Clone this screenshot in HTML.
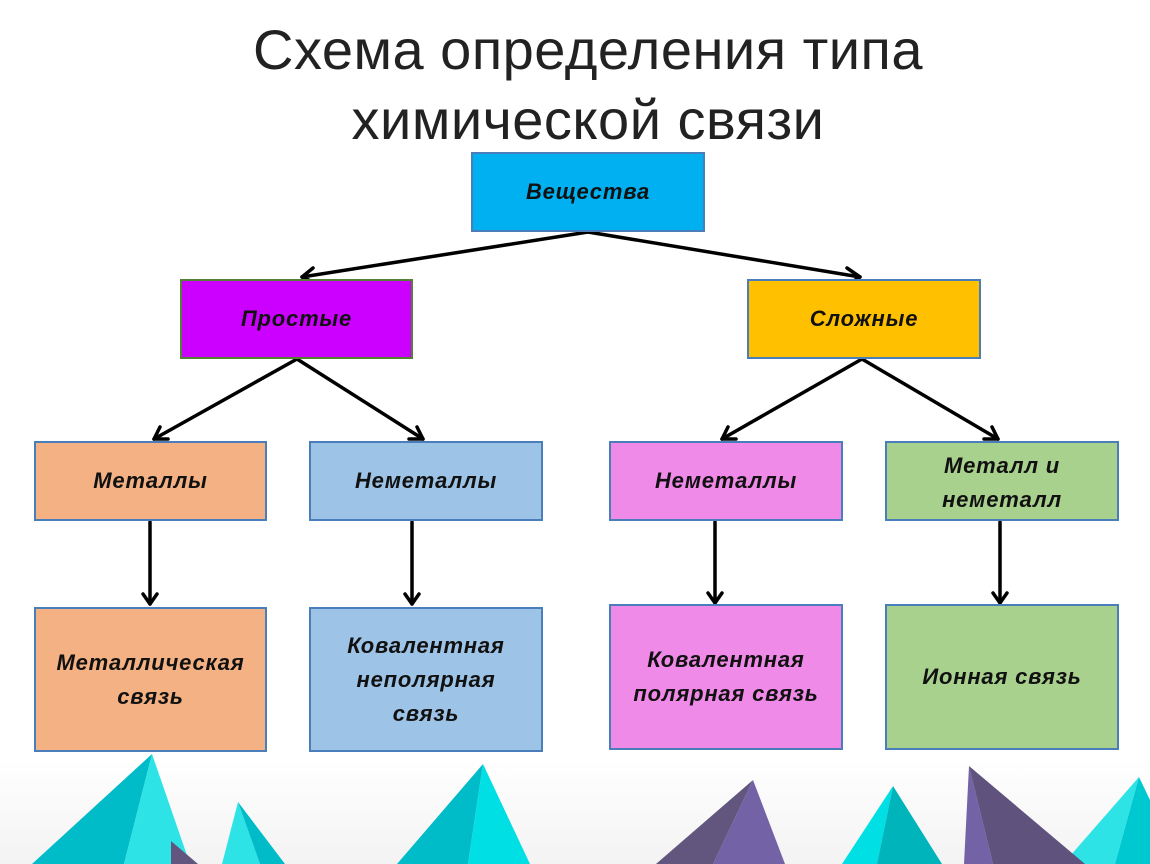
<!DOCTYPE html>
<html><head><meta charset="utf-8"><style>
body{margin:0;width:1150px;height:864px;overflow:hidden;background:#fff;position:relative;font-family:"Liberation Sans","DejaVu Sans",sans-serif}
.t{position:absolute;left:0;width:1176px;text-align:center;font-size:56px;color:#222;line-height:70px;letter-spacing:0.5px}
.b{position:absolute;box-sizing:border-box;border:2px solid #4a7ebb;display:flex;align-items:center;justify-content:center;text-align:center;font-weight:bold;font-style:italic;font-size:22px;letter-spacing:0.8px;line-height:34px;color:#111}
svg{position:absolute;left:0;top:0}
</style></head><body>
<svg width="1150" height="864">
<defs><linearGradient id="bg" x1="0" y1="0" x2="0" y2="1"><stop offset="0" stop-color="#fff"/><stop offset="1" stop-color="#f3f3f3"/></linearGradient></defs>
<rect x="0" y="760" width="1150" height="104" fill="url(#bg)"/>
<g stroke="#000" stroke-width="3.5" fill="none" stroke-linecap="round" stroke-linejoin="round">
<line x1="588" y1="232" x2="302" y2="277"/><polyline points="313,268 302,277 315,283"/>
<line x1="588" y1="232" x2="860" y2="277"/><polyline points="847,268 860,277 849,284"/>
<line x1="297" y1="359" x2="154" y2="439"/><polyline points="160,427 154,439 168,439"/>
<line x1="297" y1="359" x2="423" y2="439"/><polyline points="409,439 423,439 417,427"/>
<line x1="862" y1="359" x2="722" y2="439"/><polyline points="728,427 722,439 736,439"/>
<line x1="862" y1="359" x2="998" y2="439"/><polyline points="984,439 998,439 992,427"/>
<line x1="150" y1="522" x2="150" y2="604"/><polyline points="143,594 150,604 157,594"/>
<line x1="412" y1="522" x2="412" y2="604"/><polyline points="405,594 412,604 419,594"/>
<line x1="715" y1="522" x2="715" y2="603"/><polyline points="708,593 715,603 722,593"/>
<line x1="1000" y1="522" x2="1000" y2="603"/><polyline points="993,593 1000,603 1007,593"/>
</g>
<polygon points="152,754 32,864 124,864" fill="#00bcc8"/><polygon points="152,754 124,864 190,864" fill="#2ee3e6"/>
<polygon points="238,802 222,864 260,864" fill="#2ee3e6"/><polygon points="238,802 260,864 285,864" fill="#00bcc8"/>
<polygon points="171,841 171,864 198,864" fill="#62567f"/>
<polygon points="483,764 397,864 468,864" fill="#00bcc8"/><polygon points="483,764 468,864 530,864" fill="#00dfe3"/>
<polygon points="753,780 656,864 713,864" fill="#62567f"/><polygon points="753,780 713,864 785,864" fill="#7462a6"/>
<polygon points="893,786 842,864 877,864" fill="#00dfe3"/><polygon points="893,786 877,864 942,864" fill="#00b4bc"/>
<polygon points="1139,777 1063,864 1115,864" fill="#2ee3e6"/><polygon points="1139,777 1115,864 1150,864 1150,800" fill="#00c8d0"/>
<polygon points="969,766 964,864 993,864" fill="#7462a6"/><polygon points="969,766 993,864 1085,864" fill="#5f527c"/>
</svg>
<div class="t" style="top:15px">Схема определения типа</div>
<div class="t" style="top:85px">химической связи</div>
<div class="b" style="left:471px;top:152px;width:234px;height:80px;background:#00b0f0">Вещества</div>
<div class="b" style="left:180px;top:279px;width:233px;height:80px;background:#cc00ff;border-color:#548235">Простые</div>
<div class="b" style="left:747px;top:279px;width:234px;height:80px;background:#ffc000">Сложные</div>
<div class="b" style="left:34px;top:441px;width:233px;height:80px;background:#f4b183">Металлы</div>
<div class="b" style="left:309px;top:441px;width:234px;height:80px;background:#9dc3e6">Неметаллы</div>
<div class="b" style="left:609px;top:441px;width:234px;height:80px;background:#f08ae8">Неметаллы</div>
<div class="b" style="left:885px;top:441px;width:234px;height:80px;background:#a9d18e;padding-top:4px">Металл и<br>неметалл</div>
<div class="b" style="left:34px;top:607px;width:233px;height:145px;background:#f4b183">Металлическая<br>связь</div>
<div class="b" style="left:309px;top:607px;width:234px;height:145px;background:#9dc3e6">Ковалентная<br>неполярная<br>связь</div>
<div class="b" style="left:609px;top:604px;width:234px;height:146px;background:#f08ae8">Ковалентная<br>полярная связь</div>
<div class="b" style="left:885px;top:604px;width:234px;height:146px;background:#a9d18e">Ионная связь</div>
</body></html>
